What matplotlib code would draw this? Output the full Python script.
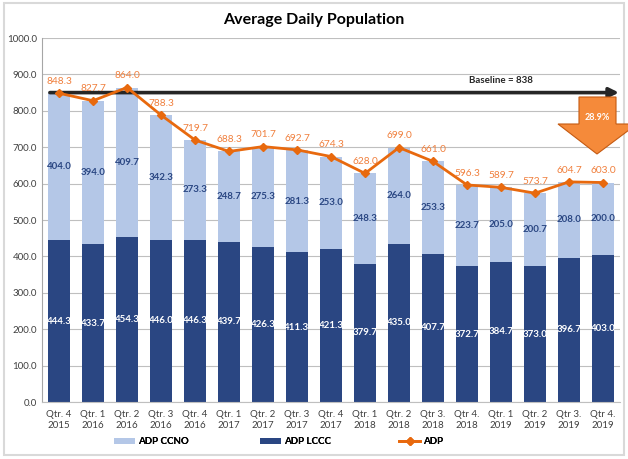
import matplotlib
matplotlib.use("Agg")
import matplotlib.pyplot as plt
import numpy as np
from matplotlib.patches import Polygon, Rectangle, Patch
from matplotlib.lines import Line2D

plt.rcParams['font.family'] = ['Lato', 'DejaVu Sans']

trimestres = ["Qtr. 4\n2015", "Qtr. 1\n2016", "Qtr. 2\n2016", "Qtr. 3\n2016", "Qtr. 4\n2016",
              "Qtr. 1\n2017", "Qtr. 2\n2017", "Qtr. 3\n2017", "Qtr. 4\n2017",
              "Qtr. 1\n2018", "Qtr. 2\n2018", "Qtr 3.\n2018", "Qtr 4.\n2018",
              "Qtr. 1\n2019", "Qtr. 2\n2019", "Qtr 3.\n2019", "Qtr 4.\n2019"]
adp_lccc = [444.3, 433.7, 454.3, 446.0, 446.3, 439.7, 426.3, 411.3, 421.3,
            379.7, 435.0, 407.7, 372.7, 384.7, 373.0, 396.7, 403.0]
adp_ccno = [404.0, 394.0, 409.7, 342.3, 273.3, 248.7, 275.3, 281.3, 253.0,
            248.3, 264.0, 253.3, 223.7, 205.0, 200.7, 208.0, 200.0]
adp_total = [848.3, 827.7, 864.0, 788.3, 719.7, 688.3, 701.7, 692.7, 674.3,
             628.0, 699.0, 661.0, 596.3, 589.7, 573.7, 604.7, 603.0]
baseline = 838
reducao = "28.9%"

COR_CLARO = "#B4C7E7"
COR_ESCURO = "#2A4682"
COR_LARANJA = "#E8690E"
COR_ROTULO = "#F07F3C"

W, H = 628, 459
fig = plt.figure(figsize=(W / 100, H / 100), dpi=100)
ax = fig.add_axes([42 / W, 1 - 402 / H, (620 - 42) / W, (402 - 38) / H])

x = np.arange(len(trimestres))
ax.bar(x, adp_lccc, width=0.66, color=COR_ESCURO, zorder=2)
ax.bar(x, adp_ccno, width=0.66, bottom=adp_lccc, color=COR_CLARO, zorder=2)
ax.plot(x, adp_total, color=COR_LARANJA, lw=2, marker='D', ms=4.5, zorder=4)

for i in range(len(x)):
    ax.text(x[i], adp_lccc[i] / 2, f"{adp_lccc[i]:.1f}", ha='center', va='center',
            color='white', fontsize=7, fontweight='bold', zorder=5)
    ax.text(x[i], adp_lccc[i] + adp_ccno[i] / 2, f"{adp_ccno[i]:.1f}", ha='center', va='center',
            color=COR_ESCURO, fontsize=7, fontweight='bold', zorder=5)
    ax.text(x[i], adp_total[i] + 20, f"{adp_total[i]:.1f}", ha='center', va='bottom',
            color=COR_ROTULO, fontsize=7.3, zorder=5)

# linha de base
ax.annotate("", xy=(16.55, 850), xytext=(-0.35, 850),
            arrowprops=dict(arrowstyle='-|>', color='#262626', lw=2.6, mutation_scale=14),
            zorder=3, annotation_clip=False)
ax.text(13.0, 882, f"Baseline = {baseline}", ha='center', va='center',
        fontsize=7, fontweight='bold', color='#262626')

ax.set_xlim(-0.5, 16.5)
ax.set_ylim(0, 1000)
ax.set_yticks(np.arange(0, 1001, 100))
ax.set_yticklabels([f"{v:.1f}" for v in np.arange(0, 1001, 100)])
ax.set_xticks(x)
ax.set_xticklabels(trimestres)
ax.tick_params(axis='both', labelsize=7, length=0, colors='#404040')
ax.tick_params(axis='x', pad=6)
ax.grid(axis='y', color='#BFBFBF', lw=0.8, zorder=0)
for lado in ['top', 'right']:
    ax.spines[lado].set_visible(False)
ax.spines['left'].set_color('#A6A6A6')
ax.spines['bottom'].set_color('#BFBFBF')

ax.set_title("Average Daily Population", fontsize=11.5, fontweight='bold', pad=10, color='black')
ax.title.set_position((0.47, 1.0))

# seta de reducao
pts = [(579, 97), (616, 97), (616, 124), (637, 124), (597, 154), (558, 124), (579, 124)]
seta = Polygon([(px / W, 1 - py / H) for px, py in pts], closed=True,
               transform=fig.transFigure, facecolor='#F58A3A', edgecolor='#C55A11', lw=0.8, zorder=6)
fig.patches.append(seta)
fig.text(597.5 / W, 1 - 117 / H, reducao, ha='center', va='center', color='white',
         fontsize=6.5, fontweight='bold', zorder=7)

# moldura
fig.patches.append(Rectangle((4 / W, 4 / H), (W - 8) / W, (H - 7) / H, transform=fig.transFigure,
                             fill=False, edgecolor='#D9D9D9', lw=1.5))

itens = [(Patch(facecolor=COR_CLARO, label='ADP CCNO'), 114),
         (Patch(facecolor=COR_ESCURO, label='ADP LCCC'), 260),
         (Line2D([], [], color=COR_LARANJA, lw=2, marker='D', ms=4, label='ADP'), 399)]
for h, px in itens:
    leg = fig.legend(handles=[h], loc='center left', bbox_to_anchor=(px / W, 1 - 442 / H),
                     frameon=False, handlelength=2.2, handleheight=0.6, handletextpad=0.3,
                     borderpad=0, borderaxespad=0, prop={'weight': 'bold', 'size': 7})
    fig.add_artist(leg)

fig.savefig("out.png", dpi=100)
